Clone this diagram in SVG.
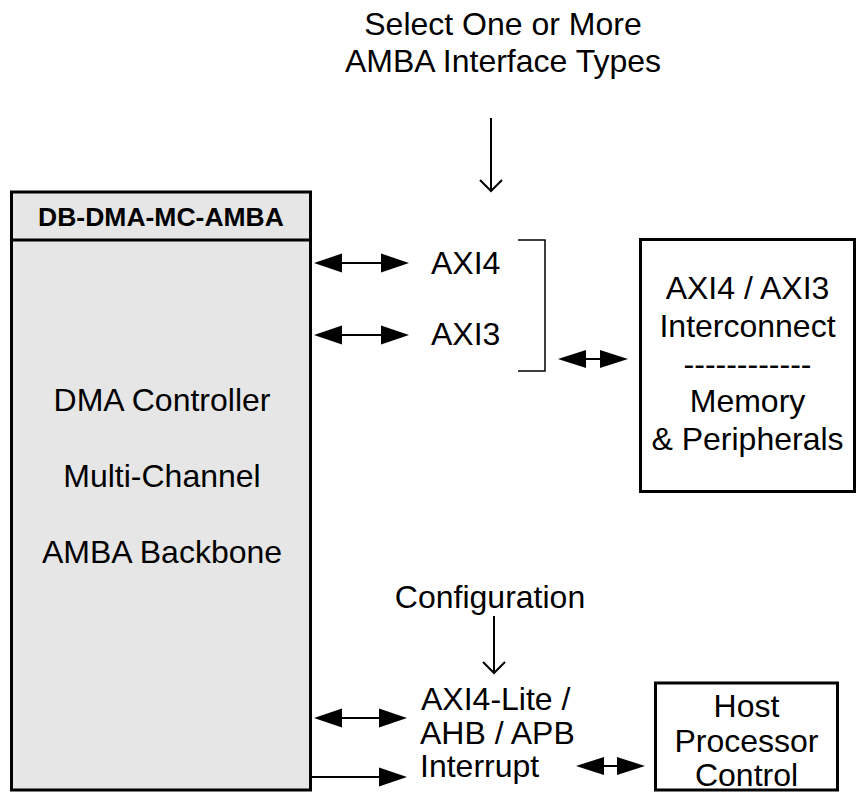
<svg xmlns="http://www.w3.org/2000/svg" width="858" height="804" viewBox="0 0 858 804">
<style>
text{font-family:"Liberation Sans",Arial,sans-serif;font-size:32px;fill:#000}
.c{text-anchor:middle}
.b{font-weight:bold;font-size:26.5px}
.box{stroke:#000;stroke-width:3}
.ln{stroke:#000;stroke-width:2;fill:none}
.hd{fill:#000;stroke:none}
</style>
<rect width="858" height="804" fill="#fff"/>
<g id="dma">
<rect class="box" x="11.5" y="192" width="299" height="598" fill="#e6e6e6"/>
<line class="box" x1="11.5" y1="240" x2="310.5" y2="240"/>
<text class="c b" x="161" y="226">DB-DMA-MC-AMBA</text>
<text class="c" x="162" y="411">DMA Controller</text>
<text class="c" x="162" y="487">Multi-Channel</text>
<text class="c" x="162" y="563">AMBA Backbone</text>
</g>
<g id="interconnect">
<rect class="box" x="640.5" y="239.5" width="214" height="252" fill="#fff"/>
<text class="c" x="747.5" y="299">AXI4 / AXI3</text>
<text class="c" x="747.5" y="337">Interconnect</text>
<text class="c" x="747.5" y="375">------------</text>
<text class="c" x="747.5" y="412">Memory</text>
<text class="c" x="747.5" y="450">&amp; Peripherals</text>
</g>
<g id="host">
<rect class="box" x="655.5" y="683" width="182" height="107" fill="#fff"/>
<text class="c" x="746.5" y="717">Host</text>
<text class="c" x="746.5" y="752">Processor</text>
<text class="c" x="746.5" y="786">Control</text>
</g>
<g id="labels">
<text class="c" x="503" y="35">Select One or More</text>
<text class="c" x="503" y="72">AMBA Interface Types</text>
<text x="431" y="274">AXI4</text>
<text x="431" y="345">AXI3</text>
<text class="c" x="490" y="608">Configuration</text>
<text x="421" y="710">AXI4-Lite /</text>
<text x="420" y="744">AHB / APB</text>
<text x="420" y="777">Interrupt</text>
</g>
<g id="connectors">
<line class="ln" x1="491" y1="118" x2="491" y2="191"/>
<polyline class="ln" points="480,180 491,191 502,180"/>
<line class="ln" x1="494" y1="616" x2="494" y2="673"/>
<polyline class="ln" points="483,662 494,673 505,662"/>
<line class="ln" x1="330" y1="263" x2="395" y2="263"/>
<polygon class="hd" points="314,263 342,253.5 342,272.5"/>
<polygon class="hd" points="409,263 381,253.5 381,272.5"/>
<line class="ln" x1="330" y1="335" x2="395" y2="335"/>
<polygon class="hd" points="314,335 342,325.5 342,344.5"/>
<polygon class="hd" points="409,335 381,325.5 381,344.5"/>
<polyline points="518,240 545,240 545,371 518,371" fill="none" stroke="#000" stroke-width="1.5"/>
<line class="ln" x1="580" y1="359" x2="610" y2="359"/>
<polygon class="hd" points="558,359 586,350 586,368"/>
<polygon class="hd" points="628,359 600,350 600,368"/>
<line class="ln" x1="330" y1="718" x2="395" y2="718"/>
<polygon class="hd" points="314,718 342,708.5 342,727.5"/>
<polygon class="hd" points="407,718 379,708.5 379,727.5"/>
<line class="ln" x1="311" y1="777" x2="395" y2="777"/>
<polygon class="hd" points="407,777 379,767.5 379,786.5"/>
<line class="ln" x1="595" y1="766" x2="625" y2="766"/>
<polygon class="hd" points="576,766 604,757 604,775"/>
<polygon class="hd" points="645,766 617,757 617,775"/>
</g>
</svg>
